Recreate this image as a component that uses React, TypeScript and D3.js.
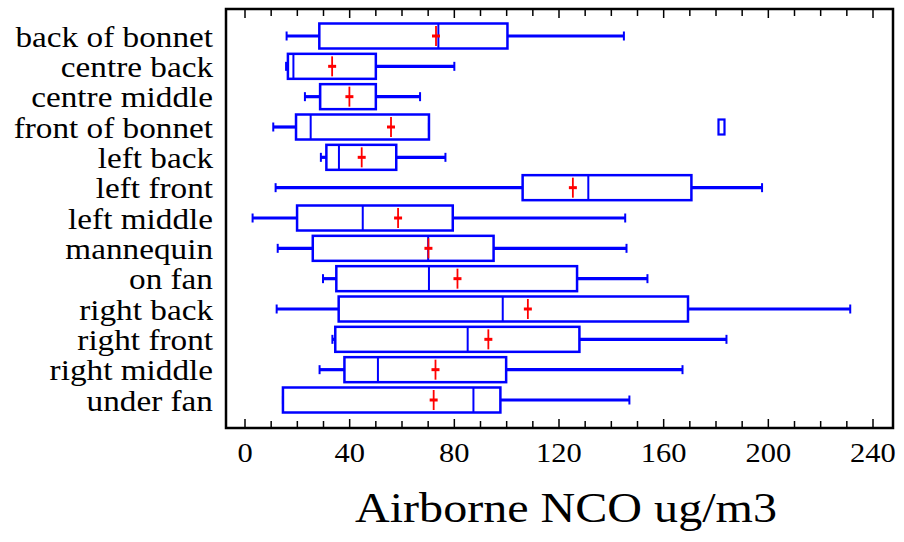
import React from "react";
import * as d3 from "d3";

// Box plot of airborne NCO per sampling location
const categories = [
  "back of bonnet", "centre back", "centre middle", "front of bonnet", "left back",
  "left front", "left middle", "mannequin", "on fan", "right back",
  "right front", "right middle", "under fan",
];
const lowWhisker = [15.9, 15.7, 22.9, 10.8, 29, 11.7, 2.9, 12.5, 29.8, 12.1, 33.4, 28.5, 14.5];
const q1 = [28.4, 16.4, 28.7, 19.5, 31.1, 106.1, 19.9, 25.9, 34.9, 35.8, 34.5, 38, 14.5];
const median = [73.9, 18.5, 28.7, 25.1, 35.9, 131.2, 45, 70, 70.3, 98.5, 85.1, 50.8, 87.3];
const q3 = [100.3, 50, 50, 70.3, 57.8, 170.6, 79.4, 95, 126.9, 169.3, 127.8, 99.8, 97.6];
const highWhisker = [144.8, 80, 66.9, 70.3, 76.6, 197.6, 145.3, 145.8, 153.8, 231.3, 184, 167.2, 146.9];
const mean = [73, 33.3, 39.9, 55.8, 44.6, 125.3, 58.5, 70.1, 81.2, 108.1, 93, 72.8, 72.1];
const outliers = [{ cat: "front of bonnet", value: 182.1 }];
const majorTicks = [0, 40, 80, 120, 160, 200, 240];
const minorTicks = d3.range(0, 250, 10);

const W = 904;
const H = 542;
const BLUE = "#0000ff";
const RED = "#ff0000";
const FONT = "'Liberation Serif', 'Times New Roman', serif";
const STRETCH = 1.09; // the reference text is a little wider than plain Times

const frame = { left: 226, right: 893, top: 9, bottom: 428 };

export default function App() {
  const x = d3.scaleLinear().domain([0, 240]).range([245, 873]);
  const y = d3.scalePoint<string>().domain(categories).range([36, 400]);
  const boxH = 25;
  const capH = 9;

  return (
    <svg width={W} height={H} style={{ position: "absolute", left: 0, top: 0, background: "#fff" }}>
      {/* ticks top & bottom, pointing inward */}
      {minorTicks.map((t) => {
        const len = majorTicks.includes(t) ? 9 : 7;
        return (
          <g key={"t" + t} stroke="#000" strokeWidth={1.5}>
            <line x1={x(t)} x2={x(t)} y1={frame.top} y2={frame.top + len} />
            <line x1={x(t)} x2={x(t)} y1={frame.bottom} y2={frame.bottom - len} />
          </g>
        );
      })}
      <rect
        x={frame.left}
        y={frame.top}
        width={frame.right - frame.left}
        height={frame.bottom - frame.top}
        fill="none"
        stroke="#000"
        strokeWidth={2.5}
      />

      {categories.map((c, i) => {
        const cy = y(c)!;
        return (
          <g key={c}>
            {/* whiskers */}
            <line x1={x(lowWhisker[i])} x2={x(q1[i])} y1={cy} y2={cy} stroke={BLUE} strokeWidth={3.2} />
            <line x1={x(q3[i])} x2={x(highWhisker[i])} y1={cy} y2={cy} stroke={BLUE} strokeWidth={3.2} />
            <line x1={x(lowWhisker[i])} x2={x(lowWhisker[i])} y1={cy - capH / 2} y2={cy + capH / 2} stroke={BLUE} strokeWidth={2} />
            <line x1={x(highWhisker[i])} x2={x(highWhisker[i])} y1={cy - capH / 2} y2={cy + capH / 2} stroke={BLUE} strokeWidth={2} />
            {/* box */}
            <rect
              x={x(q1[i])}
              y={cy - boxH / 2}
              width={x(q3[i]) - x(q1[i])}
              height={boxH}
              fill="none"
              stroke={BLUE}
              strokeWidth={2.5}
            />
            <line x1={x(median[i])} x2={x(median[i])} y1={cy - boxH / 2} y2={cy + boxH / 2} stroke={BLUE} strokeWidth={2} />
            {/* mean */}
            <line x1={x(mean[i]) - 4} x2={x(mean[i]) + 4} y1={cy} y2={cy} stroke={RED} strokeWidth={3} />
            <line x1={x(mean[i])} x2={x(mean[i])} y1={cy - 10} y2={cy + 10} stroke={RED} strokeWidth={1.8} />
            {/* label */}
            <text
              transform={`translate(213,${cy}) scale(${STRETCH},1)`}
              dy="0.35em"
              textAnchor="end"
              fontFamily={FONT}
              fontSize={30.5}
              fill="#000"
            >
              {c}
            </text>
          </g>
        );
      })}

      {outliers.map((o) => (
        <rect
          key={o.cat}
          x={x(o.value) - 3}
          y={y(o.cat)! - 7.5}
          width={6}
          height={15}
          fill="none"
          stroke={BLUE}
          strokeWidth={2.2}
        />
      ))}

      {majorTicks.map((t) => (
        <text
          key={"l" + t}
          transform={`translate(${x(t)},462) scale(${STRETCH},1)`}
          textAnchor="middle"
          fontFamily={FONT}
          fontSize={28}
          fill="#000"
        >
          {t}
        </text>
      ))}

      <text
        x={566}
        y={522}
        textAnchor="middle"
        fontFamily={FONT}
        fontSize={42}
        textLength={422}
        lengthAdjust="spacingAndGlyphs"
        fill="#000"
      >
        Airborne NCO ug/m3
      </text>
    </svg>
  );
}
